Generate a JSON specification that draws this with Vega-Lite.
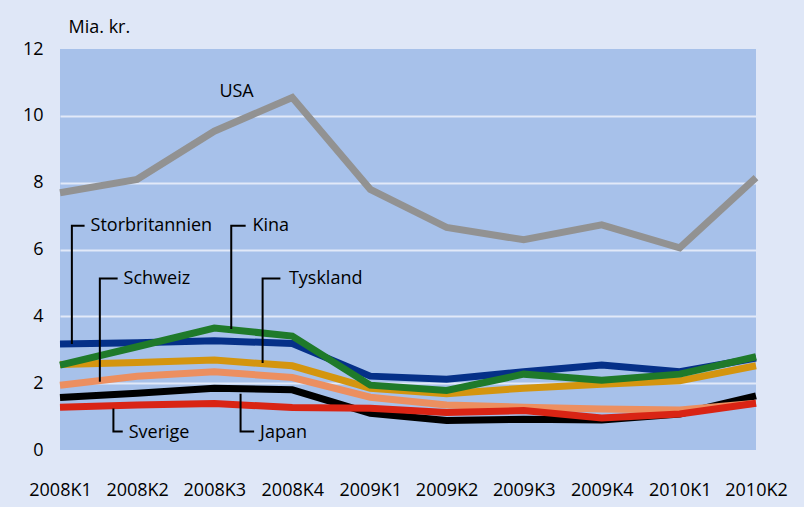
{
  "$schema": "https://vega.github.io/schema/vega-lite/v6.json",
  "autosize": "none",
  "width": 696,
  "height": 401,
  "padding": {"left": 60, "top": 49, "right": 48, "bottom": 57},
  "background": "#dfe7f7",
  "config": {
    "view": {"fill": "#a7c1ea", "stroke": null},
    "font": "Open Sans"
  },
  "datasets": {
    "serier": [
      {"land": "Japan", "kvartal": "2008-01-01", "mia": 1.57},
      {"land": "Japan", "kvartal": "2008-04-01", "mia": 1.70},
      {"land": "Japan", "kvartal": "2008-07-01", "mia": 1.85},
      {"land": "Japan", "kvartal": "2008-10-01", "mia": 1.80},
      {"land": "Japan", "kvartal": "2009-01-01", "mia": 1.10},
      {"land": "Japan", "kvartal": "2009-04-01", "mia": 0.88},
      {"land": "Japan", "kvartal": "2009-07-01", "mia": 0.92},
      {"land": "Japan", "kvartal": "2009-10-01", "mia": 0.90},
      {"land": "Japan", "kvartal": "2010-01-01", "mia": 1.08},
      {"land": "Japan", "kvartal": "2010-04-01", "mia": 1.62},
      {"land": "Schweiz", "kvartal": "2008-01-01", "mia": 1.94},
      {"land": "Schweiz", "kvartal": "2008-04-01", "mia": 2.21},
      {"land": "Schweiz", "kvartal": "2008-07-01", "mia": 2.34},
      {"land": "Schweiz", "kvartal": "2008-10-01", "mia": 2.17},
      {"land": "Schweiz", "kvartal": "2009-01-01", "mia": 1.58},
      {"land": "Schweiz", "kvartal": "2009-04-01", "mia": 1.35},
      {"land": "Schweiz", "kvartal": "2009-07-01", "mia": 1.28},
      {"land": "Schweiz", "kvartal": "2009-10-01", "mia": 1.23},
      {"land": "Schweiz", "kvartal": "2010-01-01", "mia": 1.20},
      {"land": "Schweiz", "kvartal": "2010-04-01", "mia": 1.40},
      {"land": "Sverige", "kvartal": "2008-01-01", "mia": 1.28},
      {"land": "Sverige", "kvartal": "2008-04-01", "mia": 1.35},
      {"land": "Sverige", "kvartal": "2008-07-01", "mia": 1.39},
      {"land": "Sverige", "kvartal": "2008-10-01", "mia": 1.27},
      {"land": "Sverige", "kvartal": "2009-01-01", "mia": 1.25},
      {"land": "Sverige", "kvartal": "2009-04-01", "mia": 1.12},
      {"land": "Sverige", "kvartal": "2009-07-01", "mia": 1.18},
      {"land": "Sverige", "kvartal": "2009-10-01", "mia": 0.96},
      {"land": "Sverige", "kvartal": "2010-01-01", "mia": 1.08},
      {"land": "Sverige", "kvartal": "2010-04-01", "mia": 1.40},
      {"land": "Storbritannien", "kvartal": "2008-01-01", "mia": 3.17},
      {"land": "Storbritannien", "kvartal": "2008-04-01", "mia": 3.21},
      {"land": "Storbritannien", "kvartal": "2008-07-01", "mia": 3.27},
      {"land": "Storbritannien", "kvartal": "2008-10-01", "mia": 3.19},
      {"land": "Storbritannien", "kvartal": "2009-01-01", "mia": 2.21},
      {"land": "Storbritannien", "kvartal": "2009-04-01", "mia": 2.12},
      {"land": "Storbritannien", "kvartal": "2009-07-01", "mia": 2.34},
      {"land": "Storbritannien", "kvartal": "2009-10-01", "mia": 2.54},
      {"land": "Storbritannien", "kvartal": "2010-01-01", "mia": 2.34},
      {"land": "Storbritannien", "kvartal": "2010-04-01", "mia": 2.75},
      {"land": "Tyskland", "kvartal": "2008-01-01", "mia": 2.56},
      {"land": "Tyskland", "kvartal": "2008-04-01", "mia": 2.62},
      {"land": "Tyskland", "kvartal": "2008-07-01", "mia": 2.69},
      {"land": "Tyskland", "kvartal": "2008-10-01", "mia": 2.52},
      {"land": "Tyskland", "kvartal": "2009-01-01", "mia": 1.85},
      {"land": "Tyskland", "kvartal": "2009-04-01", "mia": 1.68},
      {"land": "Tyskland", "kvartal": "2009-07-01", "mia": 1.85},
      {"land": "Tyskland", "kvartal": "2009-10-01", "mia": 1.97},
      {"land": "Tyskland", "kvartal": "2010-01-01", "mia": 2.07},
      {"land": "Tyskland", "kvartal": "2010-04-01", "mia": 2.52},
      {"land": "Kina", "kvartal": "2008-01-01", "mia": 2.54},
      {"land": "Kina", "kvartal": "2008-04-01", "mia": 3.09},
      {"land": "Kina", "kvartal": "2008-07-01", "mia": 3.65},
      {"land": "Kina", "kvartal": "2008-10-01", "mia": 3.41},
      {"land": "Kina", "kvartal": "2009-01-01", "mia": 1.94},
      {"land": "Kina", "kvartal": "2009-04-01", "mia": 1.78},
      {"land": "Kina", "kvartal": "2009-07-01", "mia": 2.27},
      {"land": "Kina", "kvartal": "2009-10-01", "mia": 2.09},
      {"land": "Kina", "kvartal": "2010-01-01", "mia": 2.27},
      {"land": "Kina", "kvartal": "2010-04-01", "mia": 2.79},
      {"land": "USA", "kvartal": "2008-01-01", "mia": 7.70},
      {"land": "USA", "kvartal": "2008-04-01", "mia": 8.10},
      {"land": "USA", "kvartal": "2008-07-01", "mia": 9.54},
      {"land": "USA", "kvartal": "2008-10-01", "mia": 10.55},
      {"land": "USA", "kvartal": "2009-01-01", "mia": 7.80},
      {"land": "USA", "kvartal": "2009-04-01", "mia": 6.66},
      {"land": "USA", "kvartal": "2009-07-01", "mia": 6.29},
      {"land": "USA", "kvartal": "2009-10-01", "mia": 6.74},
      {"land": "USA", "kvartal": "2010-01-01", "mia": 6.05},
      {"land": "USA", "kvartal": "2010-04-01", "mia": 8.15}
    ],
    "etiketter": [
      {"label": "USA", "kvartal": "2008-07-07", "mia": 10.71},
      {"label": "Storbritannien", "kvartal": "2008-02-06", "mia": 6.71},
      {"label": "Kina", "kvartal": "2008-08-15", "mia": 6.71},
      {"label": "Schweiz", "kvartal": "2008-03-16", "mia": 5.13},
      {"label": "Tyskland", "kvartal": "2008-09-27", "mia": 5.13},
      {"label": "Sverige", "kvartal": "2008-03-22", "mia": 0.52},
      {"label": "Japan", "kvartal": "2008-08-24", "mia": 0.52}
    ],
    "streger": [
      {"label": "Storbritannien", "punkt": 1, "kvartal": "2008-01-15", "mia": 3.17},
      {"label": "Storbritannien", "punkt": 2, "kvartal": "2008-01-15", "mia": 6.71},
      {"label": "Storbritannien", "punkt": 3, "kvartal": "2008-01-30", "mia": 6.71},
      {"label": "Schweiz", "punkt": 1, "kvartal": "2008-02-17", "mia": 2.04},
      {"label": "Schweiz", "punkt": 2, "kvartal": "2008-02-17", "mia": 5.13},
      {"label": "Schweiz", "punkt": 3, "kvartal": "2008-03-09", "mia": 5.13},
      {"label": "Kina", "punkt": 1, "kvartal": "2008-07-21", "mia": 3.62},
      {"label": "Kina", "punkt": 2, "kvartal": "2008-07-21", "mia": 6.71},
      {"label": "Kina", "punkt": 3, "kvartal": "2008-08-07", "mia": 6.71},
      {"label": "Tyskland", "punkt": 1, "kvartal": "2008-08-27", "mia": 2.60},
      {"label": "Tyskland", "punkt": 2, "kvartal": "2008-08-27", "mia": 5.13},
      {"label": "Tyskland", "punkt": 3, "kvartal": "2008-09-17", "mia": 5.13},
      {"label": "Sverige", "punkt": 1, "kvartal": "2008-03-04", "mia": 1.24},
      {"label": "Sverige", "punkt": 2, "kvartal": "2008-03-04", "mia": 0.55},
      {"label": "Sverige", "punkt": 3, "kvartal": "2008-03-15", "mia": 0.55},
      {"label": "Japan", "punkt": 1, "kvartal": "2008-08-01", "mia": 1.68},
      {"label": "Japan", "punkt": 2, "kvartal": "2008-08-01", "mia": 0.55},
      {"label": "Japan", "punkt": 3, "kvartal": "2008-08-17", "mia": 0.55}
    ]
  },
  "encoding": {
    "x": {
      "field": "kvartal",
      "type": "temporal",
      "scale": {"type": "utc", "nice": false},
      "axis": {
        "title": null,
        "tickCount": {"interval": "month", "step": 3},
        "labelExpr": "utcFormat(datum.value, '%Y') + 'K' + utcquarter(datum.value)",
        "domain": false,
        "ticks": false,
        "grid": false,
        "labelFont": "Open Sans",
        "labelFontSize": 18,
        "labelColor": "#000000",
        "labelBaseline": "alphabetic",
        "labelPadding": 45,
        "labelOverlap": false,
        "labelFlush": false
      }
    },
    "y": {
      "field": "mia",
      "type": "quantitative",
      "scale": {"domain": [0, 12], "nice": false},
      "axis": {
        "title": "Mia. kr.",
        "titleAngle": 0,
        "titleAlign": "left",
        "titleBaseline": "middle",
        "titleX": 8,
        "titleY": -22,
        "titleFont": "Open Sans",
        "titleFontSize": 18,
        "titleFontWeight": "normal",
        "titleColor": "#000000",
        "values": [0, 2, 4, 6, 8, 10, 12],
        "domain": false,
        "ticks": false,
        "grid": true,
        "gridColor": {"condition": {"test": "datum.value == 0 || datum.value == 12", "value": "transparent"}, "value": "#e2e9f8"},
        "gridWidth": 2,
        "labelFont": "Open Sans",
        "labelFontSize": 18,
        "labelColor": "#000000",
        "labelPadding": 17
      }
    }
  },
  "layer": [
    {
      "data": {"name": "serier"},
      "mark": {"type": "line", "strokeWidth": 7, "strokeJoin": "miter", "strokeCap": "butt"},
      "encoding": {
        "color": {
          "field": "land",
          "type": "nominal",
          "scale": {
            "domain": ["Japan", "Schweiz", "Sverige", "Storbritannien", "Tyskland", "Kina", "USA"],
            "range": ["#000000", "#ec8f60", "#d92414", "#053088", "#d4950f", "#1f7a2a", "#929292"]
          },
          "legend": null
        }
      }
    },
    {
      "data": {"name": "streger"},
      "mark": {"type": "line", "color": "#000000", "strokeWidth": 2, "strokeJoin": "miter", "strokeCap": "butt"},
      "encoding": {
        "detail": {"field": "label"},
        "order": {"field": "punkt", "type": "quantitative"}
      }
    },
    {
      "data": {"name": "etiketter"},
      "mark": {"type": "text", "align": "left", "baseline": "middle", "font": "Open Sans", "fontSize": 18, "color": "#000000"},
      "encoding": {
        "text": {"field": "label"}
      }
    }
  ]
}
